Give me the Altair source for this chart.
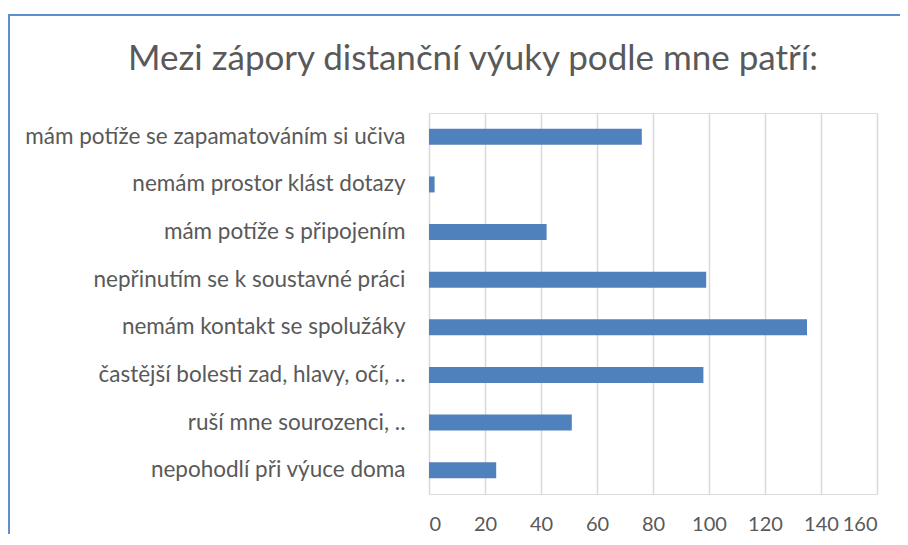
import altair as alt
import pandas as pd

categories = [
    "mám potíže se zapamatováním si učiva",
    "nemám prostor klást dotazy",
    "mám potíže s připojením",
    "nepřinutím se k soustavné práci",
    "nemám kontakt se spolužáky",
    "častější bolesti zad, hlavy, očí, ..",
    "ruší mne sourozenci, ..",
    "nepohodlí při výuce doma",
]
values = [76, 2, 42, 99, 135, 98, 51, 24]
x_ticks = [0, 20, 40, 60, 80, 100, 120, 140, 160]
title_text = "Mezi zápory distanční výuky podle mne patří:"

df = pd.DataFrame({"kategorie": categories, "pocet": values})
title_df = pd.DataFrame({"nadpis": [title_text]})

FONT = "Lato"
PL, PT, PR, PB = 421, 105, 23, 40
W, H = 448, 381

bars = alt.Chart(df).mark_bar(color="#4f81bd", size=16).encode(
    x=alt.X(
        "pocet:Q",
        scale=alt.Scale(domain=[0, 160], nice=False),
        axis=alt.Axis(
            values=x_ticks,
            title=None,
            grid=True,
            gridColor="#d9d9d9",
            gridWidth=1.5,
            domain=False,
            ticks=False,
            labelFont=FONT,
            labelFontSize=20,
            labelColor="#595959",
            labelPadding=20,
        ),
    ),
    y=alt.Y(
        "kategorie:N",
        sort=categories,
        scale=alt.Scale(paddingInner=0.66, paddingOuter=0.33),
        axis=alt.Axis(
            title=None,
            domain=False,
            ticks=False,
            labelFont=FONT,
            labelFontSize=22.5,
            labelColor="#595959",
            labelPadding=24,
            labelLimit=420,
        ),
    ),
)

frame = alt.Chart(title_df).mark_rect(
    fill=None, stroke="#5b8fd0", strokeWidth=2
).encode(
    x=alt.value(-PL + 1),
    x2=alt.value(W + PR + 20),
    y=alt.value(-PT + 7),
    y2=alt.value(H + PB + 40),
)

title = alt.Chart(title_df).mark_text(
    font=FONT,
    fontSize=35,
    color="#595959",
    align="center",
    baseline="alphabetic",
).encode(
    text="nadpis:N",
    x=alt.value(W / 2 - 180),
    y=alt.value(-43),
)

chart = alt.layer(frame, bars, title).properties(
    width=W,
    height=H,
    padding={"left": PL, "top": PT, "right": PR, "bottom": PB},
    autosize=alt.AutoSizeParams(type="none"),
).configure_view(stroke=None).configure(background="white")

chart.save("out.html", embed_options={"renderer": "svg", "actions": False})
